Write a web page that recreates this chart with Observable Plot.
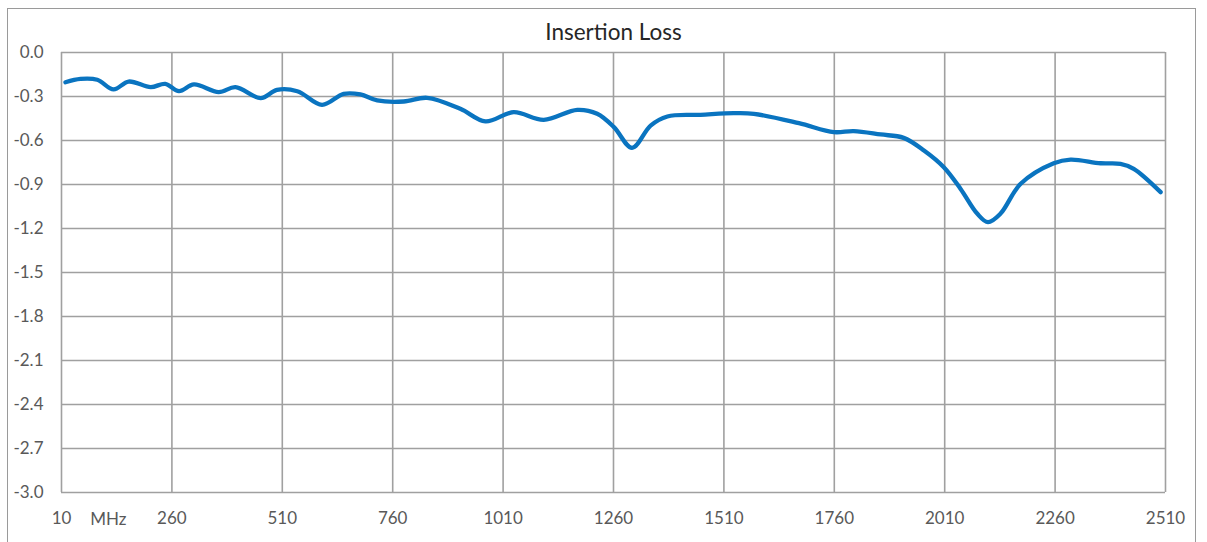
<!DOCTYPE html>
<html>
<head>
<meta charset="utf-8">
<script src="https://cdn.jsdelivr.net/npm/d3@7"></script>
<script src="https://cdn.jsdelivr.net/npm/@observablehq/plot@0.6"></script>
<style>
  html, body { margin: 0; padding: 0; background: #fff; }
  #wrap { position: relative; width: 1207px; height: 542px; overflow: hidden; }
  #border { position: absolute; left: 7px; top: 8px; width: 1189px; height: 545px; border: 1.5px solid #9a9a9a; box-sizing: border-box; }
  #chart { position: absolute; left: 0; top: 0; }
</style>
</head>
<body>
<div id="wrap"><div id="border"></div><div id="chart"></div></div>
<script>
const title = "Insertion Loss";
const unitLabel = "MHz";
const unitPos = 116;
const xTicks = [10, 260, 510, 760, 1010, 1260, 1510, 1760, 2010, 2260, 2510];
const yTicks = [0.0, -0.3, -0.6, -0.9, -1.2, -1.5, -1.8, -2.1, -2.4, -2.7, -3.0];
const freq = [19, 53, 91, 128, 162, 212, 245, 276, 310, 366, 404, 461, 498, 544, 600, 649, 687, 725, 785, 838, 913, 970, 1034, 1102, 1178, 1223, 1261, 1302, 1344, 1382, 1457, 1532, 1578, 1680, 1759, 1804, 1865, 1917, 1963, 2008, 2046, 2084, 2108, 2136, 2182, 2257, 2295, 2363, 2408, 2438, 2499];
const loss = [-0.203, -0.180, -0.186, -0.252, -0.198, -0.236, -0.214, -0.264, -0.218, -0.270, -0.236, -0.311, -0.255, -0.264, -0.357, -0.282, -0.286, -0.327, -0.334, -0.309, -0.384, -0.470, -0.407, -0.459, -0.391, -0.418, -0.509, -0.650, -0.498, -0.436, -0.425, -0.414, -0.418, -0.482, -0.543, -0.536, -0.559, -0.582, -0.668, -0.782, -0.930, -1.100, -1.157, -1.100, -0.895, -0.755, -0.730, -0.755, -0.759, -0.793, -0.952];

const data = freq.map((f, i) => ({f, v: loss[i]}));
const grid = "#a0a0a0";
const txt = "#595959";

const chart = Plot.plot({
  width: 1207,
  height: 542,
  marginLeft: 61,
  marginRight: 42,
  marginTop: 52,
  marginBottom: 50,
  style: {fontFamily: "Lato, sans-serif", fontSize: "17px", color: txt, background: "transparent"},
  x: {domain: [10, 2510], ticks: xTicks, tickSize: 0, tickPadding: 19, tickFormat: d => String(d), label: null},
  y: {domain: [-3.0, 0.0], ticks: yTicks, tickSize: 0, tickPadding: 18, tickFormat: d => d.toFixed(1), label: null},
  marks: [
    Plot.ruleY(yTicks, {stroke: grid, strokeWidth: 1.6}),
    Plot.ruleX(xTicks, {stroke: grid, strokeWidth: 1.6}),
    Plot.line(data, {x: "f", y: "v", curve: "catmull-rom", stroke: "#0a74c0", strokeWidth: 4.3, strokeLinecap: "round", strokeLinejoin: "round"}),
    Plot.text([title], {frameAnchor: "top", dy: -20, text: d => d, fontSize: 22.5, fill: "#262626", lineAnchor: "middle"}),
    Plot.text([unitLabel], {x: () => unitPos, frameAnchor: "bottom", dy: 27, text: d => d, fill: txt, fontSize: 17, lineAnchor: "middle"})
  ]
});
document.getElementById("chart").appendChild(chart);
</script>
</body>
</html>
